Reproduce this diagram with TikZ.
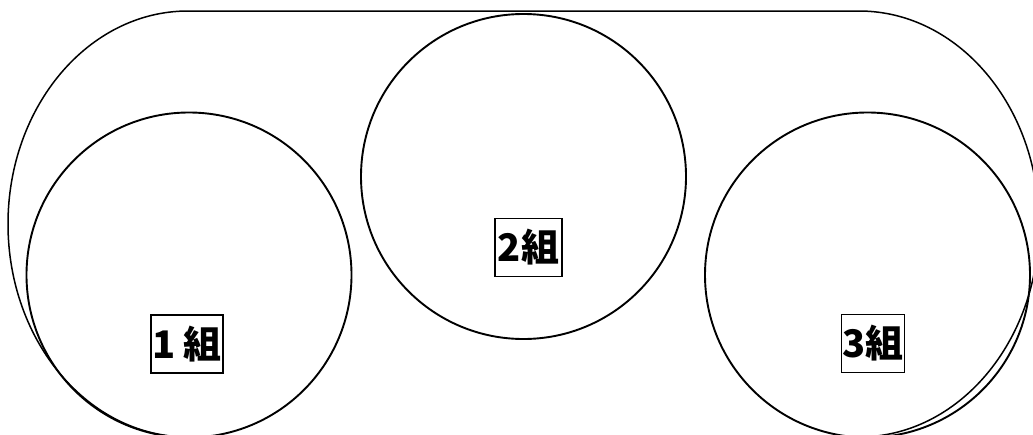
\documentclass[tikz,border=0pt]{standalone}
\usepackage{fontspec}
\setmainfont{Noto Sans CJK JP}
\begin{document}
\begin{tikzpicture}[x=1pt,y=-1pt,
  ring/.style={circle,draw,line width=1.9pt,minimum size=325pt,inner sep=0pt},
  lab/.style={draw,line width=1.6pt,fill=white,inner sep=1pt,minimum height=58pt,font=\fontsize{38}{40}\selectfont\bfseries}]
\useasboundingbox (0,0) rectangle (1033,434);
\clip (0,0) rectangle (1033,434);
% outer stadium
\draw[line width=1.5pt] (188,11) -- (859,11)
  arc[start angle=-90,end angle=90,x radius=180,y radius=213] -- (188,437)
  arc[start angle=90,end angle=270,x radius=180,y radius=213] -- cycle;
% circles
\node[ring] (g1) at (189,275) {};
\node[ring] (g2) at (523.5,176.5) {};
\node[ring] (g3) at (867.5,275) {};
% labels
\node[lab,minimum width=72pt] (l1) at (187,344) {1 組};
\node[lab,minimum width=67pt] (l2) at (528.5,247.5) {2組};
\node[lab,minimum width=62pt] (l3) at (873,343.5) {3組};
\end{tikzpicture}
\end{document}
